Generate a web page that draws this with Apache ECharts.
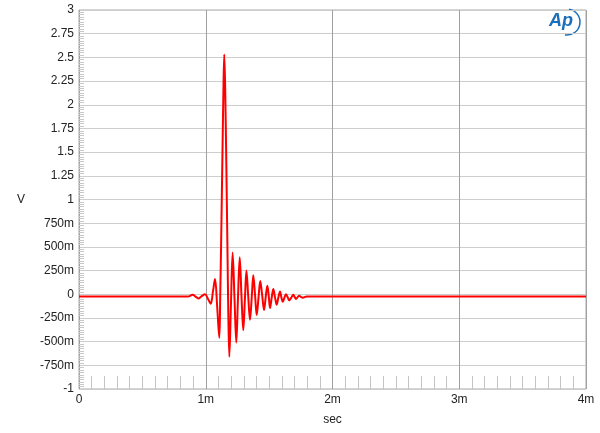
<!DOCTYPE html>
<html>
<head>
<meta charset="utf-8">
<script src="https://cdn.jsdelivr.net/npm/echarts@6/dist/echarts.min.js"></script>
<style>
  html, body { margin: 0; padding: 0; background: #fff; }
  #chart { width: 600px; height: 433px; }
</style>
</head>
<body>
<div id="chart"></div>
<script>
// 时间 (ms) 与电压 (V)
const timeMs = [
  0, 0.86, 0.897, 0.919, 0.941, 0.968, 0.994, 1.018, 1.039, 1.057, 1.073, 1.091, 1.107,
  1.114, 1.122, 1.132, 1.140, 1.146, 1.153, 1.162, 1.171, 1.178, 1.186,
  1.199, 1.212, 1.227, 1.241, 1.254, 1.268, 1.282, 1.296, 1.309, 1.321, 1.335, 1.349,
  1.363, 1.375, 1.389, 1.402, 1.416, 1.430, 1.445, 1.460, 1.473, 1.486, 1.497, 1.507,
  1.520, 1.533, 1.546, 1.560, 1.572, 1.586, 1.596, 1.608, 1.621, 1.633, 1.646, 1.659,
  1.675, 1.691, 1.702, 1.712, 1.725, 1.738, 1.751, 1.765, 1.796, 4.0
];
const volts = [
  -0.025, -0.025, -0.005, -0.025, -0.044, -0.02, 0.0, -0.05, -0.10, 0.03, 0.16, -0.15, -0.46,
  -0.03, 0.6, 1.5, 2.2, 2.53, 2.2, 1.4, 0.5, -0.2, -0.66,
  -0.1, 0.44, -0.05, -0.51, -0.05, 0.39, -0.02, -0.38, -0.05, 0.25, -0.02, -0.27,
  -0.03, 0.2, -0.01, -0.22, -0.04, 0.14, -0.01, -0.165, -0.03, 0.09, -0.02, -0.145,
  -0.04, 0.055, -0.03, -0.11, -0.04, 0.03, -0.03, -0.08, -0.035, 0.0, -0.03, -0.065,
  -0.035, -0.005, -0.03, -0.05, -0.03, -0.016, -0.028, -0.037, -0.025, -0.025
];
const yTicks = [-1, 3]; // 纵轴范围
const xTicks = [0, 4];  // 横轴范围 (ms)

const chart = echarts.init(document.getElementById("chart"));
const labelFont = { color: "#222", fontSize: 12, fontFamily: "Liberation Sans, Arial, sans-serif" };

const option = {
  animation: false,
  grid: {
    left: 79, right: 14, top: 10, bottom: 44,
    show: true, borderColor: "#a8a8a8", borderWidth: 1
  },
  xAxis: {
    type: "value",
    min: xTicks[0], max: xTicks[1], interval: 1,
    name: "sec", nameLocation: "middle", nameGap: 25,
    nameTextStyle: labelFont,
    axisLine: { show: false, onZero: false },
    axisTick: { show: false, inside: true },
    minorTick: { show: true, splitNumber: 10, length: 13, lineStyle: { color: "#c4c4c4" } },
    splitLine: { show: true, lineStyle: { color: "#a0a0a0" } },
    axisLabel: Object.assign({
      margin: 5,
      formatter: (v) => (v === 0 ? "0" : v + "m")
    }, labelFont)
  },
  yAxis: {
    type: "value",
    min: yTicks[0], max: yTicks[1], interval: 0.25,
    name: "V", nameLocation: "middle", nameGap: 54, nameRotate: 0,
    nameTextStyle: labelFont,
    axisLine: { show: false, onZero: false },
    axisTick: { show: false, inside: true },
    minorTick: { show: true, splitNumber: 10, length: 5, lineStyle: { color: "#c8c8c8" } },
    splitLine: { show: true, lineStyle: { color: "#cdcdcd" } },
    axisLabel: Object.assign({
      margin: 5,
      formatter: (v) => {
        if (v === 0) return "0";
        if (Math.abs(v) < 1) return Math.round(v * 1000) + "m";
        return String(v);
      }
    }, labelFont)
  },
  graphic: [
    {
      type: "text", left: 549, top: 12,
      style: { text: "Ap", fill: "#1a6fb8", font: "italic bold 18px Liberation Sans, Arial, sans-serif" }
    },
    {
      type: "arc",
      shape: { cx: 567, cy: 22, r: 13, startAngle: -Math.PI * 0.45, endAngle: Math.PI * 0.55 },
      style: { stroke: "#1a6fb8", lineWidth: 1.5, fill: null }
    }
  ],
  series: [
    {
      type: "line",
      data: timeMs.map((t, i) => [t, volts[i]]),
      showSymbol: false,
      smooth: 0.35,
      lineStyle: { color: "#ff0000", width: 2 },
      z: 5
    }
  ]
};
chart.setOption(option);
</script>
</body>
</html>
